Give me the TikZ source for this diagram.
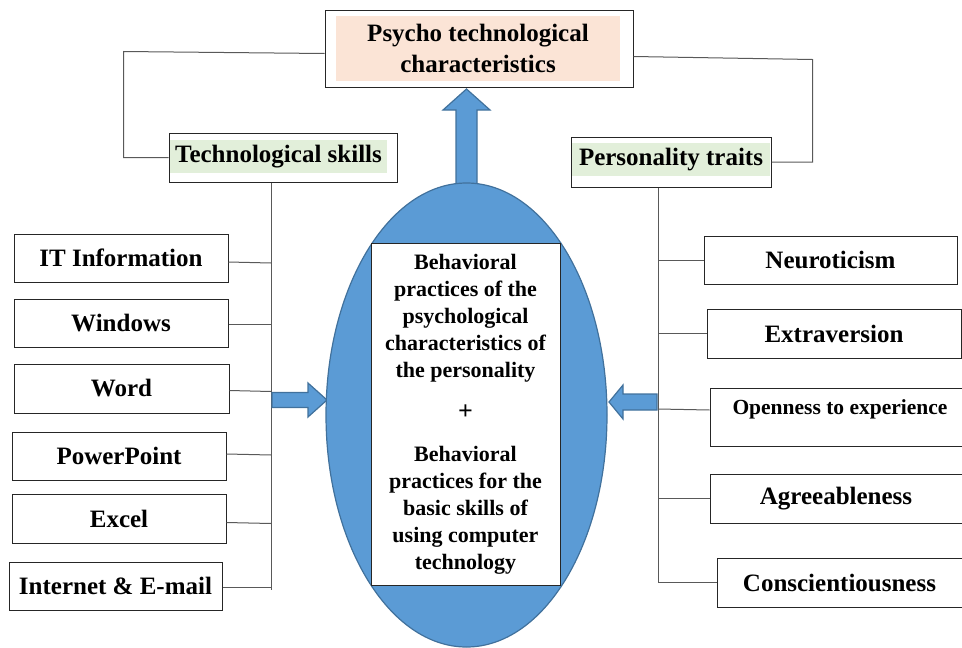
\documentclass[tikz,border=0pt]{standalone}
\usepackage{fontspec}
\setmainfont{Liberation Serif}
\usetikzlibrary{shapes.geometric}
\definecolor{peach}{HTML}{FBE4D6}
\definecolor{lgreen}{HTML}{E2EFDA}
\definecolor{arrblue}{HTML}{5B9BD5}
\definecolor{arredge}{HTML}{41719C}
\definecolor{conngray}{HTML}{595959}
\tikzset{
  box/.style={draw=black!85, line width=1pt, fill=white, inner sep=0pt, align=center,
    font=\fontsize{25}{30}\selectfont\bfseries},
  hdrfill/.style={inner sep=0pt, align=center, font=\fontsize{25}{31}\selectfont\bfseries},
  hdrbox/.style={draw=black!85, line width=1pt, inner sep=0pt},
  conn/.style={draw=conngray, line width=1pt},
  bigarrow/.style={fill=arrblue, draw=arredge, line width=1.2pt, line join=miter}
}
\begin{document}
\begin{tikzpicture}[x=1pt,y=-1pt]
\useasboundingbox (0,0) rectangle (962,648);
% top header
\node[hdrbox, minimum width=308pt, minimum height=77pt] (top) at (479,48.5) {};
\node[hdrfill, fill=peach, minimum width=284pt, minimum height=65pt] (toptxt) at (478,48.5) {Psycho technological\\characteristics};
% technological skills
\node[hdrbox, minimum width=228pt, minimum height=49pt] (tech) at (283,157.5) {};
\node[hdrfill, fill=lgreen, minimum width=217pt, minimum height=33pt] (techtxt) at (278.5,156.5) {Technological skills};
% personality traits
\node[hdrbox, minimum width=200pt, minimum height=50pt] (pers) at (671,162) {};
\node[hdrfill, fill=lgreen, minimum width=198pt, minimum height=33pt] (perstxt) at (671,159.5) {Personality traits};
% connectors from top
\draw[conn] ([yshift=-5pt]top.west) -- ++(-201,-2) |- (tech.west);
\draw[conn] ([yshift=-8pt]top.east) -- ++(179,3) |- (pers.east);
% left boxes
\node[box, minimum width=214pt, minimum height=48pt] (it) at (121,258) {IT Information};
\node[box, minimum width=214pt, minimum height=48pt] (win) at (121,323) {Windows};
\node[box, minimum width=215pt, minimum height=49pt] (word) at (121.5,388.5) {Word};
\node[box, minimum width=214pt, minimum height=48pt] (ppt) at (119,456) {PowerPoint};
\node[box, minimum width=214pt, minimum height=49pt] (xls) at (119,518.5) {Excel};
\node[box, minimum width=213pt, minimum height=48pt] (inet) at (115.5,586) {Internet \& E-mail};
% left trunk
\coordinate (lend) at (271,590);
\draw[conn] ([xshift=-12pt]tech.south) -- (lend);
\draw[conn] ([yshift=-4pt]it.east) -- ([yshift=-5pt]it.east -| lend);
\draw[conn] ([yshift=-1pt]win.east) -- ([yshift=-1pt]win.east -| lend);
\draw[conn] ([yshift=-2pt]word.east) -- ([yshift=-3pt]word.east -| lend);
\draw[conn] ([yshift=2pt]ppt.east) -- ([yshift=1pt]ppt.east -| lend);
\draw[conn] ([yshift=-4pt]xls.east) -- ([yshift=-5pt]xls.east -| lend);
\draw[conn] ([yshift=-1pt]inet.east) -- ([yshift=-1pt]inet.east -| lend);
% right boxes
\node[box, minimum width=253pt, minimum height=48pt] (neu) at (830.5,260) {Neuroticism};
\node[box, minimum width=254pt, minimum height=49pt] (ext) at (834,333.5) {Extraversion};
\node[box, minimum width=252pt, minimum height=58pt] (open) at (836,417) {};
\node[font=\fontsize{21.5}{26}\selectfont\bfseries, inner sep=0pt] (opentxt) at (840,409) {Openness to experience};
\node[box, minimum width=252pt, minimum height=49pt] (agr) at (836,498.5) {Agreeableness};
\node[box, minimum width=245pt, minimum height=49pt] (con) at (839.5,582.5) {Conscientiousness};
% right trunk
\coordinate (rend) at (658,583);
\draw[conn] ([xshift=-13pt]pers.south) -- (rend);
\draw[conn] (neu.west) -- (neu.west -| rend);
\draw[conn] (ext.west) -- (ext.west -| rend);
\draw[conn] ([yshift=7pt]open.west) -- ([yshift=8pt]open.west -| rend);
\draw[conn] (agr.west) -- (agr.west -| rend);
\draw[conn] (con.west) -- (con.west -| rend);
% big arrows
\draw[bigarrow] (456,190) -- (456,110) -- (443,110) -- (466.5,89) -- (490,110) -- (477,110) -- (477,190) -- cycle;
\draw[bigarrow] (272,392.5) -- (308,392.5) -- (308,383) -- (327,400) -- (308,417) -- (308,407.5) -- (272,407.5) -- cycle;
\draw[bigarrow] (657,394) -- (623,394) -- (623,385) -- (609,402) -- (623,419) -- (623,410) -- (657,410) -- cycle;
% ellipse
\node[ellipse, fill=arrblue, draw=arredge, line width=1.2pt, minimum width=281pt, minimum height=464pt, inner sep=0pt] (ell) at (466.5,415) {};
\node[draw=black!85, line width=1pt, fill=white, minimum width=189pt, minimum height=342pt, inner sep=0pt] (core) at (465.5,414) {};
\node[align=center, font=\fontsize{22}{27}\selectfont\bfseries, inner sep=0pt] (coretxt) at (465.5,414) {Behavioral\\practices of the\\psychological\\characteristics of\\the personality\\[15pt]{\fontsize{26}{27}\selectfont +}\\[15pt]Behavioral\\practices for the\\basic skills of\\using computer\\technology};
\end{tikzpicture}
\end{document}
